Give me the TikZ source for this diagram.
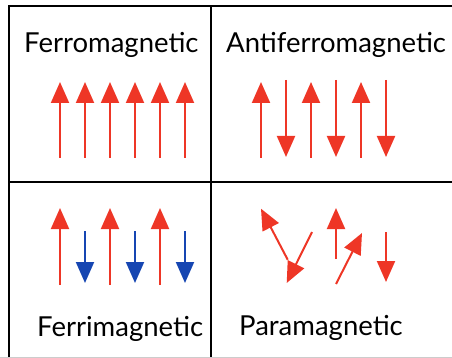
\documentclass[tikz,border=0pt]{standalone}
\usepackage{fontspec}
\setmainfont{Lato}
\usetikzlibrary{arrows.meta}

\definecolor{spinred}{RGB}{238,54,38}
\definecolor{spinblue}{RGB}{22,70,178}

\begin{document}
\begin{tikzpicture}[
    x=1pt,
    y=-1pt,
    spin/.style={line width=2pt, -{Triangle[length=21pt, width=18pt]}},
    label/.style={font=\fontsize{27.5}{33}\selectfont, anchor=base west, inner sep=0pt}
]
    \useasboundingbox (0,0) rectangle (452,358);
    % frame
    \draw[gray!40, line width=1.2pt] (0,357.4) -- (452,357.4);
    \draw[line width=2pt] (452,6) -- (9,6) -- (9,357);
    \draw[line width=2pt] (9,182) -- (452,182);
    \draw[line width=2pt] (210.5,6) -- (210.5,357);
    % titles
    \node[label] (ferro) at (24,53) {Ferromagnetic};
    \node[label] (antiferro) at (226,53) {Antiferromagnetic};
    \node[label] (ferri) at (37,336) {Ferrimagnetic};
    \node[label] (para) at (239,335) {Paramagnetic};
    % ferromagnetic
    \foreach \x in {60,85,110,135,160,185}
        \draw[spin, spinred] (\x,158) -- (\x,82);
    % antiferromagnetic
    \foreach \x in {261,311,361} {
        \draw[spin, spinred] (\x,158) -- (\x,82);
        \draw[spin, spinred] (\x+25,80) -- (\x+25,157);
    }
    % ferrimagnetic
    \foreach \x in {60,110,160} {
        \draw[spin, spinred] (\x,285) -- (\x,208);
        \draw[spin, spinblue] (\x+25,231) -- (\x+25,283);
    }
    % paramagnetic
    \draw[spin, spinred] (287.7,259.7) -- (261,208.7);
    \draw[spin, spinred] (312,232) -- (286.7,283);
    \draw[spin, spinred] (336,259) -- (336,208);
    \draw[spin, spinred] (336,284) -- (362,233);
    \draw[spin, spinred] (386,232) -- (386,282);
\end{tikzpicture}
\end{document}
